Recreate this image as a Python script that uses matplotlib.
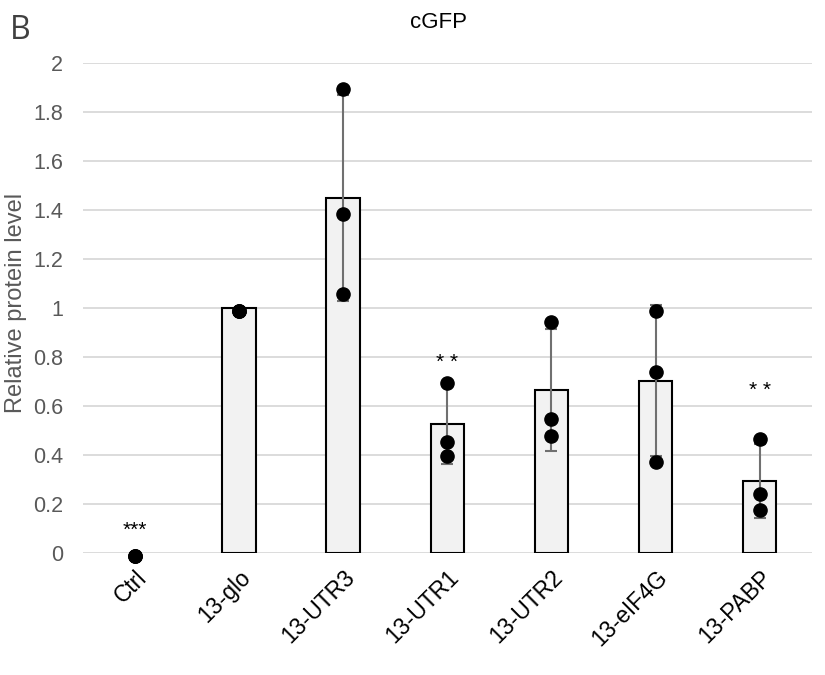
import matplotlib
matplotlib.use("Agg")
import matplotlib.pyplot as plt
import numpy as np

categories = ["Ctrl", "13-glo", "13-UTR3", "13-UTR1", "13-UTR2", "13-eIF4G", "13-PABP"]
means = [0.0, 1.0, 1.451, 0.526, 0.666, 0.704, 0.296]
errors = [0.0, 0.0, 0.42, 0.163, 0.25, 0.307, 0.15]
replicates = [
    [-0.01, -0.01, -0.01],
    [0.988, 0.988, 0.988],
    [1.892, 1.382, 1.056],
    [0.693, 0.455, 0.398],
    [0.944, 0.546, 0.478],
    [0.989, 0.738, 0.374],
    [0.465, 0.242, 0.177],
]
stars = ["***", "", "", "* *", "", "", "* *"]
star_y = [0.095, 0, 0, 0.78, 0, 0, 0.663]
yticks = [0, 0.2, 0.4, 0.6, 0.8, 1, 1.2, 1.4, 1.6, 1.8, 2]
ytick_labels = ["0", "0.2", "0.4", "0.6", "0.8", "1", "1.2", "1.4", "1.6", "1.8", "2"]

plt.rcParams['font.family'] = ['Liberation Sans', 'DejaVu Sans']

fig = plt.figure(figsize=(8.25, 6.75), dpi=100)
ax = fig.add_axes([0.1002, 0.1803, 0.8838, 0.7264])

x = np.arange(len(categories))
edgecolors = ["black" if m > 0 else "none" for m in means]
ax.bar(x, means, width=0.32, color="#f2f2f2", edgecolor=edgecolors, linewidth=1.5, zorder=2)
for i in range(len(categories)):
    if errors[i] > 0:
        ax.errorbar(x[i], means[i], yerr=errors[i], fmt="none", ecolor="#707070",
                    elinewidth=1.5, capsize=4.5, capthick=1.5, zorder=3)
    ax.plot([x[i]] * len(replicates[i]), replicates[i], "o", color="black",
            markersize=9.5, zorder=4, clip_on=False)
    if stars[i]:
        ax.text(x[i], star_y[i], stars[i], ha="center", va="center", fontsize=15,
                color="black", zorder=5)

ax.set_xlim(-0.5, len(categories) - 0.5)
ax.set_ylim(0, 2)
ax.set_yticks(yticks)
ax.set_yticklabels(ytick_labels, fontsize=15.5, color="#595959")
ax.set_xticks(x)
ax.set_xticklabels(categories, rotation=45, ha="right", rotation_mode="anchor",
                   fontsize=16.5, color="black")
ax.tick_params(axis="both", length=0)
ax.tick_params(axis="y", pad=14)
ax.tick_params(axis="x", pad=9)
for lbl in ax.get_xticklabels():
    lbl.set_x(lbl.get_position()[0])
ax.grid(axis="y", color="#d9d9d9", linewidth=1.3, zorder=0)
ax.set_axisbelow(True)
for s in ax.spines.values():
    s.set_visible(False)

fig.text(16 / 825, 1 - 302.5 / 675, "Relative protein level", rotation=90,
         ha="center", va="center", fontsize=17, color="#595959")
fig.text(0.532, 0.967, "cGFP", ha="center", va="center", fontsize=16, color="black")
fig.text(0.012, 0.955, "B", ha="left", va="center", fontsize=23, color="#404040",
         family=["Open Sans", "DejaVu Sans"])

fig.savefig("out.png", dpi=100)
